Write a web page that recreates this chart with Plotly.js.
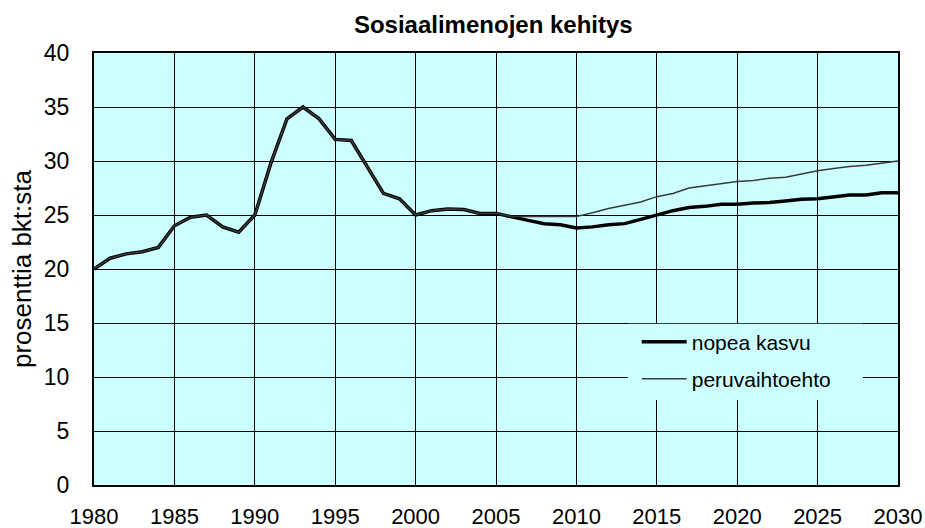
<!DOCTYPE html>
<html>
<head>
<meta charset="utf-8">
<script src="https://cdn.plot.ly/plotly-3.0.1.min.js"></script>
<style>html,body{margin:0;padding:0;background:#fff;}#chart{width:925px;height:528px;}</style>
</head>
<body>
<div id="chart"></div>
<script>
const years = [1980,1981,1982,1983,1984,1985,1986,1987,1988,1989,1990,1991,1992,1993,1994,1995,1996,1997,1998,1999,2000,2001,2002,2003,2004,2005,2006,2007,2008,2009,2010,2011,2012,2013,2014,2015,2016,2017,2018,2019,2020,2021,2022,2023,2024,2025,2026,2027,2028,2029,2030];
const nopeaKasvu = [20,21,21.4,21.6,22,24,24.8,25,23.9,23.4,25,29.8,33.9,35,33.9,32,31.9,29.4,27,26.5,25,25.4,25.55,25.5,25.15,25.15,24.8,24.5,24.2,24.1,23.8,23.9,24.1,24.2,24.6,25.0,25.4,25.7,25.8,26.0,26.0,26.1,26.15,26.3,26.45,26.5,26.7,26.85,26.85,27.05,27.05];
const peruvaihtoehto = [20,21,21.4,21.6,22,24,24.8,25,23.9,23.4,25,29.8,33.9,35,33.9,32,31.9,29.4,27,26.5,25,25.4,25.55,25.5,25.15,25.15,24.85,24.85,24.85,24.85,24.85,25.2,25.6,25.9,26.2,26.7,27.0,27.5,27.7,27.9,28.1,28.2,28.4,28.5,28.8,29.1,29.3,29.5,29.6,29.8,30];
const seriesNames = ["nopea kasvu","peruvaihtoehto"];
const chartTitle = "Sosiaalimenojen kehitys";
const yTitle = "prosenttia bkt:sta";

const FONT = "Liberation Sans, Arial, sans-serif";
const traces = [
  {x: years, y: nopeaKasvu, name: seriesNames[0], type: "scatter", mode: "lines",
   line: {color: "#000000", width: 3.5}, legend: "legend"},
  {x: years, y: peruvaihtoehto, name: seriesNames[1], type: "scatter", mode: "lines",
   line: {color: "#3a3a3a", width: 1.5}, legend: "legend2"}
];
const legendBase = {bgcolor: "rgba(0,0,0,0)", borderwidth: 0, font: {family: FONT, size: 21, color: "#000"},
  xanchor: "left", yanchor: "middle", itemwidth: 45};
const layout = {
  width: 925, height: 528,
  margin: {l: 94, r: 27, t: 53, b: 43},
  paper_bgcolor: "#ffffff", plot_bgcolor: "#ccffff",
  font: {family: FONT, color: "#000"},
  title: {text: chartTitle, font: {family: FONT, size: 24, color: "#000", weight: "bold"},
          x: 0.5333, xanchor: "center", y: 0.953, yanchor: "middle", xref: "container", yref: "container"},
  showlegend: true,
  legend: Object.assign({}, legendBase, {x: 0.675, y: 0.331}),
  legend2: Object.assign({}, legendBase, {x: 0.675, y: 0.245}),
  xaxis: {range: [1980, 2030], tick0: 1980, dtick: 5, showgrid: true, gridcolor: "#000", gridwidth: 1,
          showline: true, linecolor: "#000", linewidth: 2, mirror: true, zeroline: false,
          ticks: "", ticklabelstandoff: 11, tickfont: {family: FONT, size: 22, color: "#000"}, fixedrange: true},
  yaxis: {range: [0, 40], tick0: 0, dtick: 5, showgrid: true, gridcolor: "#000", gridwidth: 1,
          showline: true, linecolor: "#000", linewidth: 2, mirror: true, zeroline: false,
          ticks: "", ticklabelstandoff: 18, tickfont: {family: FONT, size: 23, color: "#000"},
          title: {text: yTitle, font: {family: FONT, size: 26, color: "#000"}}, fixedrange: true},
  shapes: [{type: "rect", xref: "paper", yref: "paper", x0: 0.664, x1: 0.9565, y0: 0.197, y1: 0.373,
            fillcolor: "#ccffff", line: {width: 0}, layer: "above"}]
};
Plotly.newPlot("chart", traces, layout, {displayModeBar: false, staticPlot: true});
</script>
</body>
</html>
